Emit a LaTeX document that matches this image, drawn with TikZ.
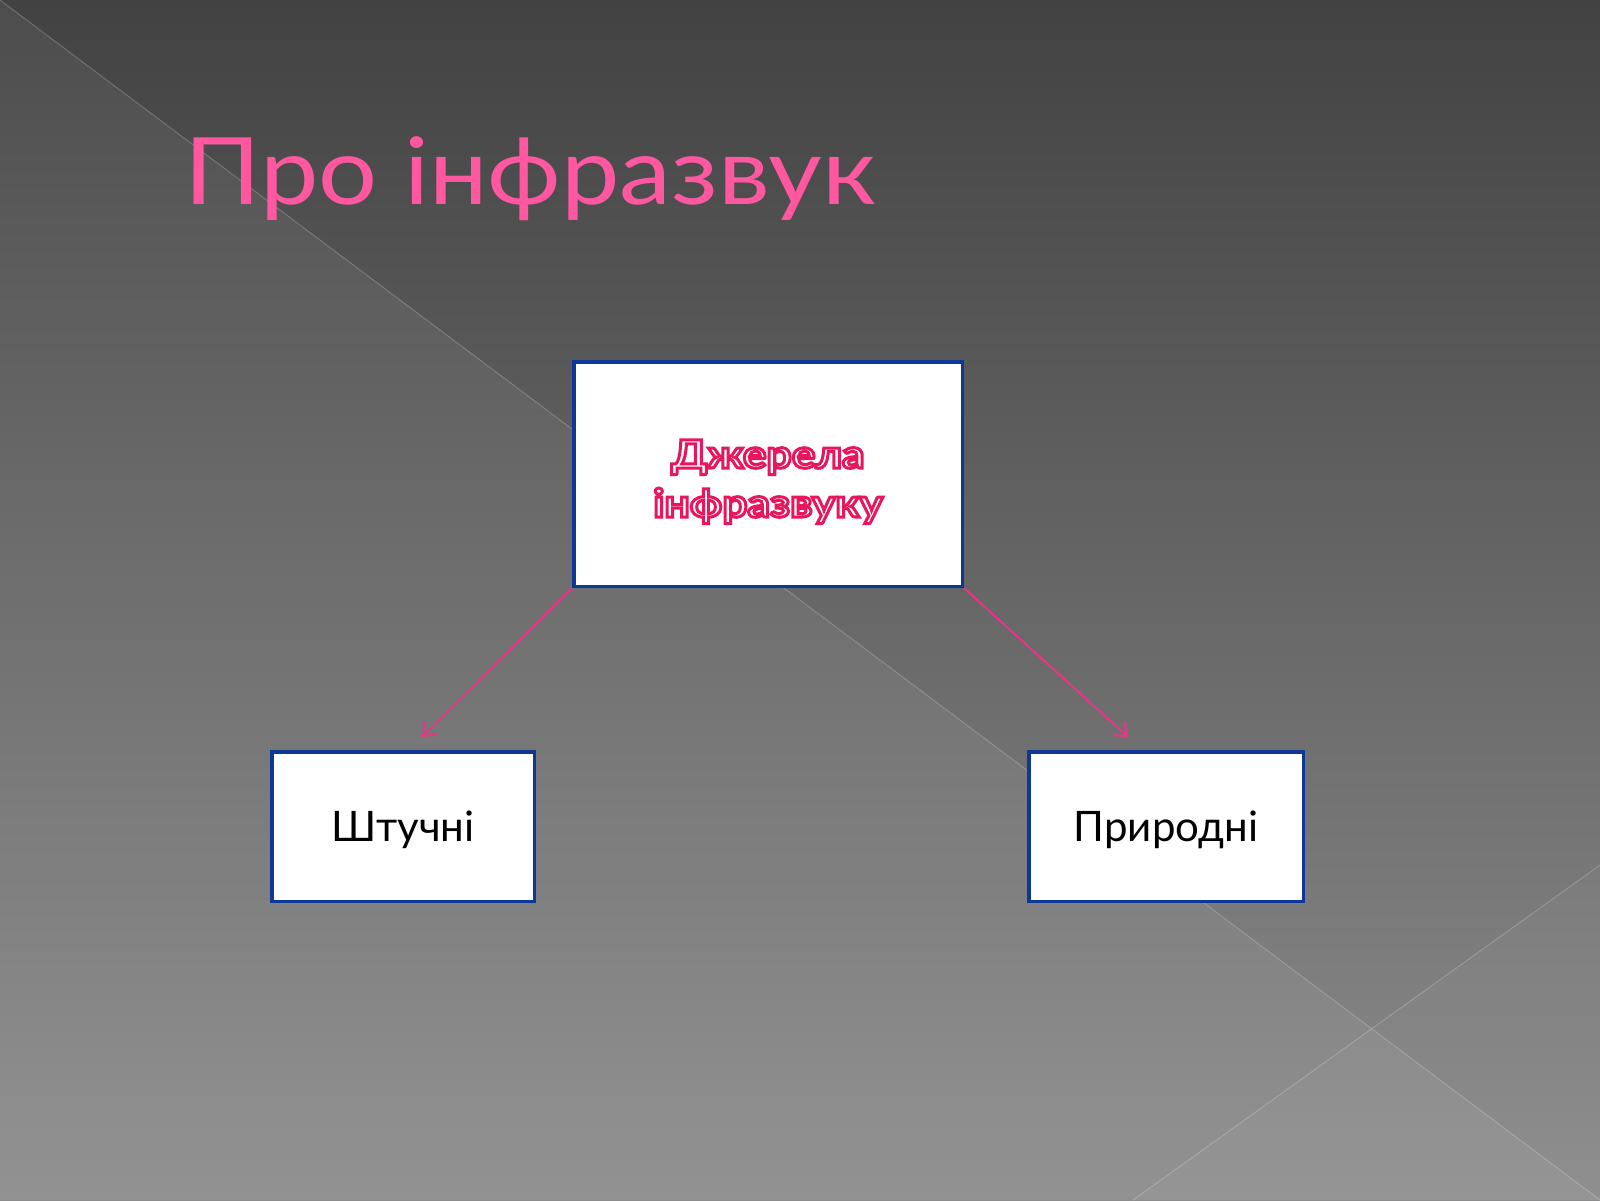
\documentclass[tikz,border=0pt]{standalone}
\usepackage{fontspec}
\setmainfont{Lato}
\newfontfamily\titlefont{Lato}[FakeStretch=1.12]
\newfontfamily\srcfont{Lato}[FakeStretch=1.14]
\usetikzlibrary{arrows.meta}
\definecolor{titlepink}{RGB}{255,88,160}
\definecolor{deeppink}{RGB}{232,22,92}
\definecolor{arrowpink}{RGB}{234,52,136}
\definecolor{boxblue}{RGB}{14,56,152}
\definecolor{bgtop}{RGB}{66,66,66}
\definecolor{bgbot}{RGB}{140,140,140}
\newcommand{\outlinedtext}[1]{\special{pdf:literal direct 2 Tr 3 w 1 1 1 rg}#1\special{pdf:literal direct 0 Tr}}
\tikzset{
  boxnode/.style={draw=boxblue, line width=3.5pt, fill=white, rectangle, inner sep=0pt, align=center},
  smallbox/.style={boxnode, minimum width=262.5pt, minimum height=149.5pt,
    font=\fontsize{42}{50}\selectfont, text=black, text height=30pt, text depth=0pt},
  titletext/.style={text=titlepink, inner sep=0pt, font=\titlefont\fontsize{93}{110}\selectfont},
  linkarrow/.style={draw=arrowpink, line width=2pt, -{Straight Barb[length=11pt,width=18pt,line width=2pt]}},
  bgline/.style={draw=white, draw opacity=0.2, line width=1pt}
}
\begin{document}
\begin{tikzpicture}[x=1pt,y=-1pt]
\useasboundingbox (0,0) rectangle (1600,1200);
% background
\fill[top color=bgtop, bottom color=bgbot] (0,0) rectangle (1600,1200);
\fill[white, opacity=0.06] (0,0) -- (1600,1200) -- (0,1200) -- cycle;
\fill[white, opacity=0.03] (1133,1200) -- (1600,865) -- (1600,1200) -- cycle;
\draw[bgline] (0,0) -- (1600,1200);
\draw[bgline] (1133,1200) -- (1600,865);
% title
\node[titletext, anchor=base west] (title) at (184,204) {Про інфразвук};
% boxes
\node[boxnode, minimum width=388.5pt, minimum height=224.5pt, text=deeppink,
  font=\srcfont\bfseries\fontsize{39}{49}\selectfont]
  (src) at (768,474) {\outlinedtext{\raisebox{0pt}[37pt][0pt]{Джерела}\\\raisebox{0pt}[0pt][0pt]{інфразвуку}}};
\node[smallbox] (art) at (403,826.5) {Штучні};
\node[smallbox, minimum width=274.5pt] (nat) at (1166,826.5) {Природні};
% arrows
\coordinate (artin) at (422,737);
\coordinate (natin) at (1128,737);
\draw[linkarrow] (src.south west) -- (artin);
\draw[linkarrow] (src.south east) -- (natin);
\end{tikzpicture}
\end{document}
